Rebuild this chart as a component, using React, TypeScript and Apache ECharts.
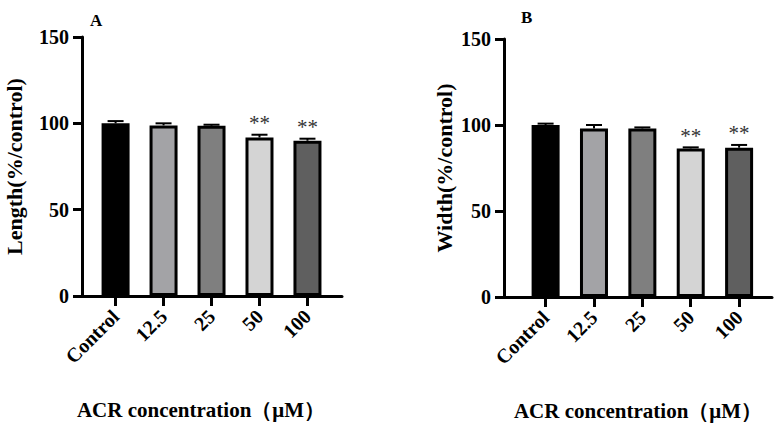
import React, { useEffect, useRef } from "react";
import * as echarts from "echarts";

const categories = ["Control", "12.5", "25", "50", "100"];
const lengthValues = [100, 98.8, 98.6, 91.8, 89.9];
const lengthErrors = [1.3, 1.2, 0.6, 1.6, 1.2];
const widthValues = [100, 98.0, 98.0, 86.4, 86.8];
const widthErrors = [0.8, 2.0, 0.6, 0.6, 1.6];
const significance = ["", "", "", "**", "**"];
const barColors = ["#000000", "#a3a3a6", "#7f7f7f", "#d4d4d4", "#5f5f5f"];
const yTicks = [0, 50, 100, 150];
const positions = [0, 1, 2, 3, 4];

const FONT = "Liberation Serif, serif";

function makeAxes(gridIndex: number, min: number, max: number, nameGap: number, yName: string, namePad: number[]) {
  const xAxis = {
    type: "value",
    gridIndex,
    min,
    max,
    splitLine: { show: false },
    axisLine: { show: true, onZero: false, lineStyle: { color: "#000", width: 3 } },
    axisTick: { show: true, length: 10, customValues: positions, lineStyle: { color: "#000", width: 3 } },
    axisLabel: {
      customValues: positions,
      rotate: 45,
      margin: 17,
      color: "#000",
      fontFamily: FONT,
      fontWeight: "bold",
      fontSize: 20,
      formatter: (v: number) => categories[Math.round(v)] ?? "",
    },
    name: "ACR concentration（μM）",
    nameLocation: "middle",
    nameGap: 103,
    nameTextStyle: { color: "#000", fontFamily: FONT, fontWeight: "bold", fontSize: 21, padding: namePad },
  };
  const yAxis = {
    type: "value",
    gridIndex,
    min: yTicks[0],
    max: yTicks[yTicks.length - 1],
    interval: 50,
    splitLine: { show: false },
    axisLine: { show: true, onZero: false, lineStyle: { color: "#000", width: 3 } },
    axisTick: { show: true, length: 9, lineStyle: { color: "#000", width: 3 } },
    axisLabel: { margin: 13, color: "#000", fontFamily: FONT, fontWeight: "bold", fontSize: 20 },
    name: yName,
    nameLocation: "middle",
    nameGap,
    nameTextStyle: { color: "#000", fontFamily: FONT, fontWeight: "bold", fontSize: 22 },
  };
  return { xAxis, yAxis };
}

function makeSeries(idx: number, values: number[], errors: number[]) {
  const bar = {
    type: "bar",
    xAxisIndex: idx,
    yAxisIndex: idx,
    barWidth: 28,
    data: values.map((v, i) => ({
      value: [positions[i], v],
      itemStyle: { color: barColors[i], borderColor: "#000", borderWidth: 3 },
    })),
  };
  const err = {
    type: "custom",
    xAxisIndex: idx,
    yAxisIndex: idx,
    z: 5,
    data: values.map((v, i) => [positions[i], v, errors[i]]),
    renderItem: (params: any, api: any) => {
      const x = api.value(0);
      const top = api.value(1);
      const e = api.value(2);
      const p0 = api.coord([x, top]);
      const p1 = api.coord([x, top + e]);
      const children: any[] = [
        { type: "line", shape: { x1: p0[0], y1: p0[1], x2: p1[0], y2: p1[1] }, style: { stroke: "#000", lineWidth: 2 } },
        { type: "line", shape: { x1: p1[0] - 8, y1: p1[1], x2: p1[0] + 8, y2: p1[1] }, style: { stroke: "#000", lineWidth: 2 } },
      ];
      const s = significance[params.dataIndex];
      if (s) {
        children.push({
          type: "text",
          style: {
            text: s,
            x: p1[0],
            y: p1[1] - 1,
            align: "center",
            verticalAlign: "bottom",
            fill: "#333",
            fontFamily: FONT,
            fontSize: 21,
          },
        });
      }
      return { type: "group", children };
    },
  };
  return [bar, err];
}

export default function App() {
  const ref = useRef<HTMLDivElement>(null);
  useEffect(() => {
    if (!ref.current) return;
    const chart = echarts.init(ref.current, undefined, { renderer: "svg" });
    const a = makeAxes(0, -0.7, 4.72, 57, "Length(%/control)", [0, 22, 0, 0]);
    const b = makeAxes(1, -0.86, 4.68, 49, "Width(%/control)", [0, 0, 0, 0]);
    chart.setOption({
      animation: false,
      backgroundColor: "#fff",
      grid: [
        { left: 82, top: 37, width: 260, height: 259 },
        { left: 504, top: 39, width: 268, height: 258 },
      ],
      xAxis: [a.xAxis, b.xAxis],
      yAxis: [a.yAxis, b.yAxis],
      series: [...makeSeries(0, lengthValues, lengthErrors), ...makeSeries(1, widthValues, widthErrors)],
      graphic: [
        { type: "text", left: 90, top: 12, style: { text: "A", fill: "#000", fontFamily: FONT, fontWeight: "bold", fontSize: 17 } },
        { type: "text", left: 521, top: 9, style: { text: "B", fill: "#000", fontFamily: FONT, fontWeight: "bold", fontSize: 17 } },
      ],
    });
    return () => chart.dispose();
  }, []);
  return <div ref={ref} style={{ position: "absolute", left: 0, top: 0, width: 781, height: 430 }} />;
}
